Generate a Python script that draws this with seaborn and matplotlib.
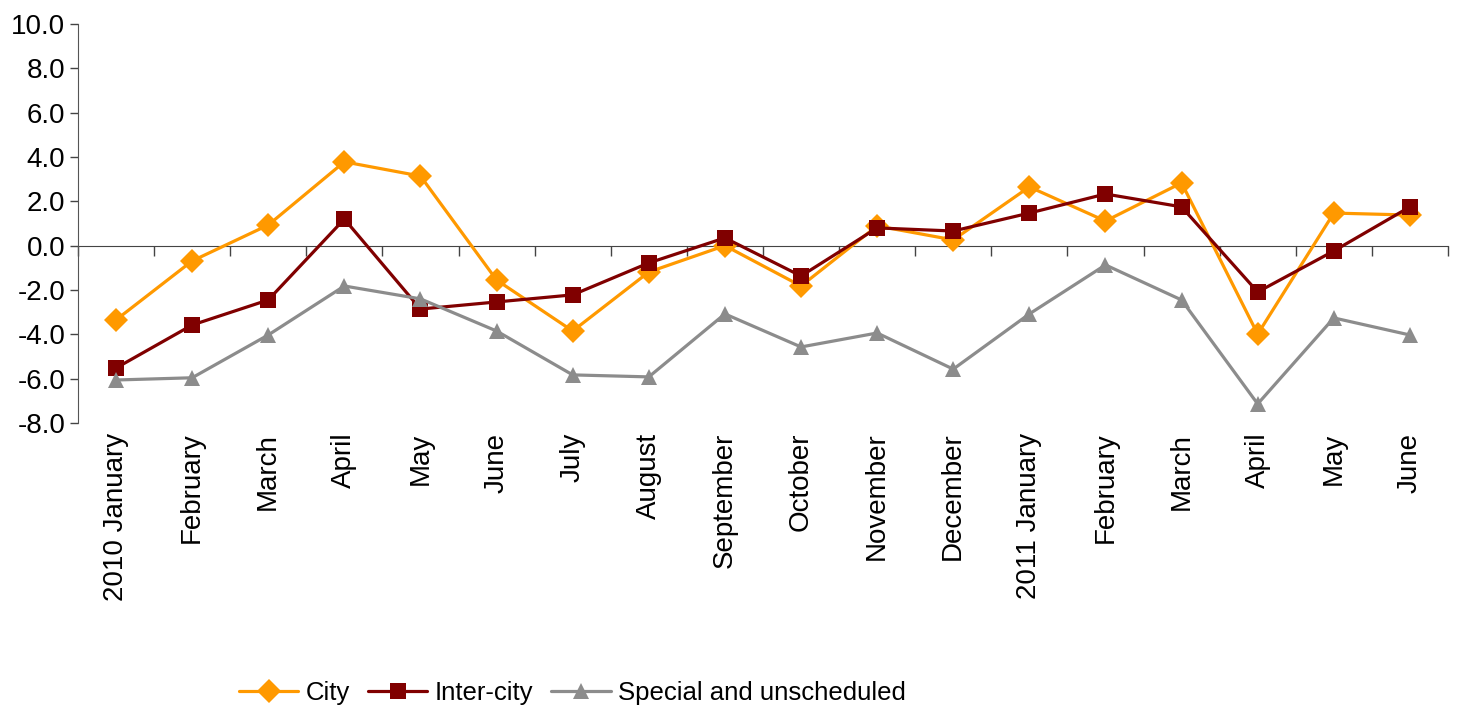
import pandas as pd
import seaborn as sns
import matplotlib.pyplot as plt
from matplotlib.ticker import FormatStrFormatter

sns.set_style("white")
plt.rcParams["font.family"] = ["Liberation Sans", "DejaVu Sans"]
plt.rcParams["text.color"] = "black"
plt.rcParams["xtick.labelcolor"] = "black"
plt.rcParams["ytick.labelcolor"] = "black"

# month labels, 2010 January .. 2011 June
months = ["2010 January", "February", "March", "April", "May", "June", "July",
          "August", "September", "October", "November", "December",
          "2011 January", "February", "March", "April", "May", "June"]

city = [-3.35, -0.69, 0.93, 3.78, 3.14, -1.55, -3.85, -1.19, 0.0, -1.82,
        0.89, 0.26, 2.65, 1.11, 2.83, -3.99, 1.47, 1.38]
inter_city = [-5.52, -3.58, -2.45, 1.20, -2.86, -2.54, -2.22, -0.78, 0.35, -1.37,
              0.80, 0.66, 1.47, 2.33, 1.75, -2.09, -0.24, 1.75]
special = [-6.06, -5.96, -4.03, -1.82, -2.40, -3.85, -5.83, -5.92, -3.08, -4.57,
           -3.94, -5.57, -3.08, -0.87, -2.45, -7.14, -3.26, -4.03]

series_names = ["City", "Inter-city", "Special and unscheduled"]
colors = {"City": "#FF9900", "Inter-city": "#800000", "Special and unscheduled": "#8C8C8C"}
markers = {"City": "D", "Inter-city": "s", "Special and unscheduled": "^"}

rows = []
for name, vals in zip(series_names, [city, inter_city, special]):
    for i, v in enumerate(vals):
        rows.append({"idx": i, "value": v, "series": name})
df = pd.DataFrame(rows)

fig = plt.figure(figsize=(14.57, 7.05), dpi=100)
ax = fig.add_axes([0.0535, 0.4, 0.9403, 0.566])

sns.lineplot(data=df, x="idx", y="value", hue="series", style="series",
             hue_order=series_names, style_order=series_names,
             palette=colors, markers=markers, dashes=False,
             linewidth=2.3, markersize=12, markeredgewidth=0, ax=ax, legend=False)

ymin, ymax = -8, 10
ax.set_ylim(ymin, ymax)
ax.set_xlim(-0.5, len(months) - 0.5)
ax.set_yticks(range(-8, 11, 2))
ax.yaxis.set_major_formatter(FormatStrFormatter("%.1f"))
ax.tick_params(axis="y", labelsize=20, length=6, width=1, direction="out",
               left=True, pad=3, colors="#444444", labelcolor="black")

ax.set_xticks(range(len(months)))
ax.set_xticklabels(months, rotation=90, fontsize=20)
ax.tick_params(axis="x", length=0, pad=7)
ax.set_xlabel("")
ax.set_ylabel("")

for s in ["top", "right", "bottom"]:
    ax.spines[s].set_visible(False)
ax.spines["left"].set_color("#555555")

# zero line with category separators
sec = ax.secondary_xaxis((0 - ymin) / (ymax - ymin))
sec.set_xticks([i + 0.5 for i in range(-1, len(months))])
sec.set_xticklabels([])
sec.tick_params(axis="x", length=7, width=1, direction="out", colors="#444444")
sec.spines["bottom"].set_color("#444444")

handles = [plt.Line2D([], [], color=colors[n], marker=markers[n], linewidth=2.3,
                      markersize=12, markeredgewidth=0) for n in series_names]
fig.legend(handles, series_names, loc="center", bbox_to_anchor=(0.393, 0.017),
           ncol=3, frameon=False, fontsize=18.5, handlelength=2.3,
           handletextpad=0.3, columnspacing=0.7)

fig.savefig("out.png", dpi=100)
